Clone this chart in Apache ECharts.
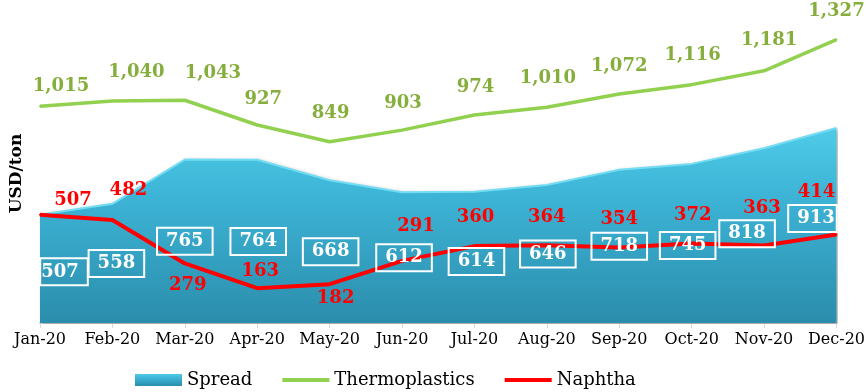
<!DOCTYPE html>
<html>
<head>
<meta charset="utf-8">
<script src="https://cdn.jsdelivr.net/npm/echarts@6/dist/echarts.min.js"></script>
<style>
  html, body { margin: 0; padding: 0; background: #ffffff; }
  #chart { width: 868px; height: 392px; }
</style>
</head>
<body>
<div id="chart"></div>
<script>
// Monthly prices, USD/ton
const months = ['Jan-20', 'Feb-20', 'Mar-20', 'Apr-20', 'May-20', 'Jun-20',
                'Jul-20', 'Aug-20', 'Sep-20', 'Oct-20', 'Nov-20', 'Dec-20'];
const spread = [507, 558, 765, 764, 668, 612, 614, 646, 718, 745, 818, 913];
const thermoplastics = [1015, 1040, 1043, 927, 849, 903, 974, 1010, 1072, 1116, 1181, 1327];
const naphtha = [507, 482, 279, 163, 182, 291, 360, 364, 354, 372, 363, 414];

// Label placement (pixel nudges relative to each point)
const thermoOffsets = [[21, -20], [24, -29], [28, -27], [6, -26], [1, -28], [1, -27],
                       [1, -28], [1, -29], [0, -28], [1, -29], [5, -30], [0, -28]];
const naphthaOffsets = [[33, -14], [16, -30], [3, 22], [3, -17], [6, 14], [14, -35],
                        [1, -29], [0, -28], [0, -28], [1, -28], [-2, -37], [-20, -42]];
const spreadOffsets = [[24, 3], [4, 0], [0, 0], [1, 0], [1, 0], [2, 0],
                       [2, 4], [1, 0], [0, 0], [-4, 2], [-17, -2], [-24, -7]];

const FONT = '"DejaVu Serif", "Liberation Serif", serif';

const spreadFill = new echarts.graphic.LinearGradient(0, 0, 0, 1, [
  { offset: 0, color: '#4fcbe8' },
  { offset: 0.35, color: '#3db4d6' },
  { offset: 1, color: '#2b8dac' }
]);

function labelled(values, offsets, base) {
  return values.map((v, i) => ({
    value: v,
    label: Object.assign({}, base, { offset: offsets[i] })
  }));
}

// spread box labels sit halfway up the filled area
const spreadLabelData = spread.map((v, i) => {
  const item = { value: [i, v / 2], label: { offset: spreadOffsets[i] } };
  if (i === 0) item.label.padding = [5, 9, 4, 1];
  if (i === spread.length - 1) item.label.padding = [5, 2, 4, 9];
  return item;
});

const chart = echarts.init(document.getElementById('chart'), null, { renderer: 'canvas' });

chart.setOption({
  animation: false,
  backgroundColor: '#ffffff',
  grid: { left: 38, right: 30, top: 24, bottom: 69 },
  legend: {
    left: 130,
    top: 366,
    itemWidth: 47,
    itemHeight: 12,
    itemGap: 28,
    textStyle: { fontFamily: FONT, fontSize: 18, color: '#000000' },
    data: [
      { name: 'Spread', icon: 'rect' },
      { name: 'Thermoplastics', itemStyle: { opacity: 0 }, lineStyle: { width: 4 } },
      { name: 'Naphtha', itemStyle: { opacity: 0 }, lineStyle: { width: 4 } }
    ]
  },
  xAxis: {
    type: 'category',
    data: months,
    boundaryGap: false,
    axisLine: { lineStyle: { color: '#d9d9d9', width: 2 } },
    axisTick: { show: true, length: 5, interval: 0, lineStyle: { color: '#d9d9d9', width: 1 } },
    axisLabel: { interval: 0, fontFamily: FONT, fontSize: 16, color: '#000000', margin: 9 }
  },
  yAxis: {
    type: 'value',
    min: 0,
    max: 1400,
    name: 'USD/ton',
    nameLocation: 'middle',
    nameRotate: 90,
    nameGap: 15,
    nameTextStyle: { fontFamily: FONT, fontSize: 17, fontWeight: 'bold', color: '#000000' },
    axisLine: { show: false },
    axisTick: { show: false },
    axisLabel: { show: false },
    splitLine: { show: false }
  },
  series: [
    {
      name: 'Spread',
      type: 'line',
      data: spread,
      symbol: 'none',
      z: 1,
      itemStyle: { color: spreadFill },
      lineStyle: { color: '#72dcf2', width: 2 },
      areaStyle: {
        color: spreadFill,
        opacity: 1,
        shadowColor: 'rgba(0,0,0,0.35)',
        shadowBlur: 4,
        shadowOffsetX: 2,
        shadowOffsetY: 1
      }
    },
    {
      name: 'Thermoplastics',
      type: 'line',
      symbol: 'circle',
      symbolSize: 2,
      z: 4,
      itemStyle: { color: '#92d050' },
      lineStyle: { color: '#92d050', width: 3.5 },
      data: labelled(thermoplastics, thermoOffsets, {
        show: true,
        position: 'inside',
        formatter: p => p.value.toLocaleString('en-US'),
        fontFamily: FONT,
        fontSize: 18,
        fontWeight: 'bold',
        color: '#86ae3c'
      })
    },
    {
      name: 'Naphtha',
      type: 'line',
      symbol: 'circle',
      symbolSize: 2,
      z: 5,
      itemStyle: { color: '#ff0000' },
      lineStyle: { color: '#ff0000', width: 4 },
      data: labelled(naphtha, naphthaOffsets, {
        show: true,
        position: 'inside',
        formatter: p => String(p.value),
        fontFamily: FONT,
        fontSize: 18,
        fontWeight: 'bold',
        color: '#ff0000'
      })
    },
    {
      name: 'Spread labels',
      type: 'scatter',
      data: spreadLabelData,
      symbolSize: 0,
      z: 10,
      silent: true,
      itemStyle: { opacity: 1 },
      label: {
        show: true,
        position: 'inside',
        formatter: p => String(spread[p.dataIndex]),
        fontFamily: FONT,
        fontSize: 18,
        fontWeight: 'bold',
        color: '#ffffff',
        opacity: 1,
        borderColor: '#ffffff',
        borderWidth: 2,
        padding: [5, 9, 4, 9]
      }
    }
  ]
});
</script>
</body>
</html>
